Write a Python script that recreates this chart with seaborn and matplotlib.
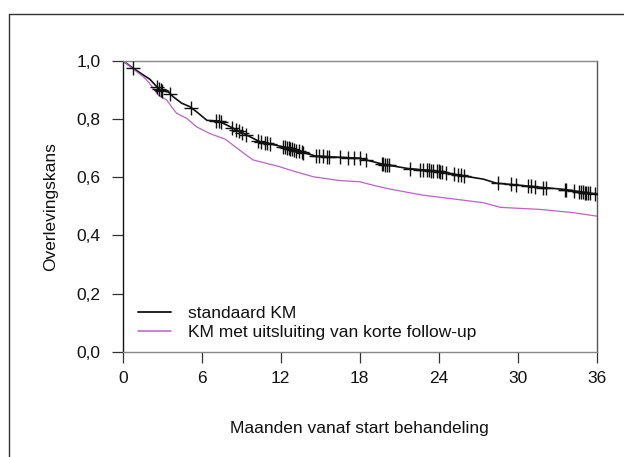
import numpy as np
import pandas as pd
import matplotlib
matplotlib.use("Agg")
import matplotlib.pyplot as plt
from matplotlib.lines import Line2D
import seaborn as sns

# ---- data ----
km_std_t = [0, 0.8, 1.56, 2.07, 2.58, 2.83, 3.46, 3.84, 4.48, 5.1, 5.6, 6.4, 7.26,
            8.4, 9.4, 10.4, 12.2, 13.5, 14.7, 16.5, 18.0, 18.5, 19.8, 21.6, 24.1,
            25.9, 27.4, 28.4, 29.9, 31.7, 33.5, 34.7, 36.0]
km_std_s = [1.0, 0.974, 0.951, 0.936, 0.911, 0.899, 0.893, 0.876, 0.854, 0.842, 0.825,
            0.795, 0.793, 0.768, 0.745, 0.722, 0.704, 0.687, 0.672, 0.668, 0.665, 0.659,
            0.644, 0.630, 0.619, 0.604, 0.593, 0.579, 0.573, 0.565, 0.558, 0.550, 0.540]

km_excl_t = [0, 1.06, 1.56, 1.94, 2.33, 2.7, 3.34, 3.7, 4.1, 4.86, 5.6, 6.6, 7.8, 9.2,
             9.9, 11.9, 12.95, 14.5, 16.5, 18.0, 19.3, 20.4, 22.8, 25.3, 27.4, 28.7,
             31.7, 34.2, 36.0]
km_excl_s = [1.0, 0.962, 0.945, 0.928, 0.905, 0.882, 0.865, 0.842, 0.819, 0.802, 0.773,
             0.750, 0.730, 0.682, 0.659, 0.636, 0.621, 0.601, 0.588, 0.584, 0.569, 0.558,
             0.538, 0.524, 0.512, 0.496, 0.489, 0.478, 0.466]

censor_t = [0.8, 2.6, 2.75, 2.9, 3.0, 3.6, 5.2, 7.1, 7.3, 7.5, 8.3, 8.6, 8.8, 9.1, 9.4,
            10.3, 10.5, 10.8, 11.0, 11.2, 12.2, 12.35, 12.5, 12.6, 12.7, 12.85, 13.0,
            13.2, 13.4, 13.6, 13.7, 14.7, 14.95, 15.2, 15.5, 15.7, 16.5, 17.1, 17.6,
            18.0, 18.5, 19.7, 19.8, 19.95, 20.1, 20.2, 21.8, 22.6, 22.85, 23.1, 23.25,
            23.4, 23.6, 23.85, 24.0, 24.1, 24.25, 24.6, 25.2, 25.45, 25.7, 25.9, 28.5,
            29.5, 29.9, 30.8, 31.05, 31.3, 31.9, 32.2, 33.6, 33.7, 34.3, 34.7, 34.85,
            34.95, 35.1, 35.2, 35.35, 35.5, 35.9]

labels = ["standaard KM", "KM met uitsluiting van korte follow-up"]
colors = ["#111111", "#b865c0"]
x_ticks = [0, 6, 12, 18, 24, 30, 36]
y_ticks = [0.0, 0.2, 0.4, 0.6, 0.8, 1.0]
y_ticklabels = ["0,0", "0,2", "0,4", "0,6", "0,8", "1,0"]

df = pd.concat([
    pd.DataFrame({"maand": km_std_t, "kans": km_std_s, "curve": labels[0]}),
    pd.DataFrame({"maand": km_excl_t, "kans": km_excl_s, "curve": labels[1]}),
], ignore_index=True)
cens = pd.DataFrame({"maand": censor_t,
                     "kans": np.interp(censor_t, km_std_t, km_std_s)})

# ---- style ----
sns.set_theme(style="white")
plt.rcParams["font.family"] = ["Liberation Sans", "DejaVu Sans"]
plt.rcParams["text.color"] = "#111111"
plt.rcParams["xtick.labelcolor"] = "#111111"
plt.rcParams["ytick.labelcolor"] = "#111111"
plt.rcParams["axes.labelcolor"] = "#111111"
FS = 12.5

fig = plt.figure(figsize=(6.24, 4.57), dpi=100)
ax = fig.add_axes([122.7 / 624, 1 - 351.7 / 457, (596.5 - 122.7) / 624, (351.7 - 60.7) / 457])

sns.lineplot(data=df, x="maand", y="kans", hue="curve", hue_order=labels,
             palette=dict(zip(labels, colors)), estimator=None, sort=False, ax=ax)
lines = ax.get_lines()
lines[0].set_linewidth(1.2)
lines[1].set_linewidth(0.9)
sns.scatterplot(data=cens, x="maand", y="kans", marker="+", s=110, color="#111111",
                linewidth=1.0, legend=False, ax=ax, zorder=3)

ax.set_xlim(0, 36)
ax.set_ylim(0, 1)
ax.set_xticks(x_ticks)
ax.set_xticklabels([str(v) for v in x_ticks], fontsize=FS)
ax.set_yticks(y_ticks)
ax.set_yticklabels(y_ticklabels, fontsize=FS)
ax.tick_params(axis="x", direction="out", length=8, width=0.9, color="#333333", pad=6, bottom=True)
ax.tick_params(axis="y", direction="out", length=8, width=0.9, color="#333333", pad=8, left=True)
ax.set_xlabel("Maanden vanaf start behandeling", fontsize=FS, labelpad=25)
ax.set_ylabel("Overlevingskans", fontsize=FS, labelpad=13)

for side, col in [("left", "#111111"), ("top", "#888888"), ("bottom", "#888888"), ("right", "#555555")]:
    ax.spines[side].set_visible(True)
    ax.spines[side].set_color(col)
    ax.spines[side].set_linewidth(1.0)

handles = [Line2D([], [], color=colors[0], lw=1.3), Line2D([], [], color=colors[1], lw=1.1)]
ax.legend(handles, labels, loc="upper left", bbox_to_anchor=(0.0317, 0.158), frameon=False,
          fontsize=FS, handlelength=1.9, handletextpad=1.0, labelspacing=0.25,
          borderpad=0, borderaxespad=0)

# outer frame (only top and left edges are visible in the reference)
fig.add_artist(Line2D([9.3 / 624, 1.0], [1 - 14.3 / 457] * 2, transform=fig.transFigure,
                      color="#333333", lw=1.0))
fig.add_artist(Line2D([9.3 / 624] * 2, [0.0, 1 - 14.3 / 457], transform=fig.transFigure,
                      color="#333333", lw=1.0))

fig.savefig("out.png", dpi=100)
